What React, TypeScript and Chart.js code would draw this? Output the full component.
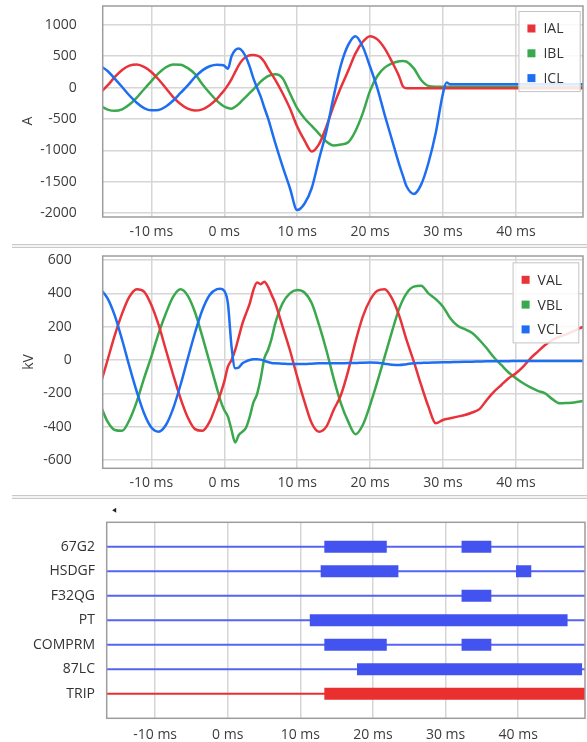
import React, { useEffect, useRef } from "react";
import { Chart, registerables } from "chart.js";

Chart.register(...registerables);

const FONT = '"Open Sans", "Noto Sans", "DejaVu Sans", sans-serif';
const TEXT = "#3c3c3c";
const GRID = "#d6d6d6";
const FRAME = "#9d9d9d";

// Shared time window (ms) for all three panels
const X_MIN = -16.67;
const X_MAX = 49.2;
const TIME_TICKS = [-10, 0, 10, 20, 30, 40];
const CURRENT_TICKS = [-2000, -1500, -1000, -500, 0, 500, 1000];
const VOLTAGE_TICKS = [-600, -400, -200, 0, 200, 400, 600];

// ---- Line currents (A) ----
const T_CURRENT = [
  -17, -16, -15, -14, -13, -12, -11, -10, -9, -8, -7, -6, -5, -4, -3, -2, -1,
  -0.5, 0, 0.5, 1, 1.5, 2, 2.5, 3, 3.5, 4, 4.5, 5, 5.5, 6,
  7, 8, 9, 10, 11, 12, 13, 14, 15, 16, 17, 18, 19, 20, 21, 22, 23, 24,
  24.5, 25, 26, 27, 28, 29, 30, 30.5, 31, 35, 40, 45, 50,
];
const IAL = [
  -80, 35, 170, 280, 350, 368, 330, 250, 130, -10, -150, -260, -335, -365, -345, -280, -180,
  -110, -40, 40, 137, 250, 360, 440, 492, 515, 519, 510, 481, 410, 307,
  122, -90, -330, -620, -840, -1016, -900, -620, -290, 5, 270, 546, 730, 820, 768, 625, 413, 175,
  20, -10, -10, -10, -10, -10, -10, -10, -10, -10, -10, -10, -10,
];
const IBL = [
  -290, -350, -370, -345, -270, -160, -25, 105, 230, 325, 370, 365, 310, 215, 55, -85, -210,
  -260, -300, -325, -335, -305, -259, -200, -143, -85, -26, 35, 95, 145, 185,
  212, 150, -90, -328, -487, -608, -735, -857, -920, -905, -870, -690, -407, -48, 186, 318, 387, 420,
  425, 413, 307, 122, 27, 16, 16, 16, 16, 16, 16, 16, 16,
];
const ICL = [
  345, 265, 140, 10, -125, -240, -325, -362, -355, -300, -205, -85, 35, 170, 275, 340, 365,
  362, 350, 300, 500, 598, 624, 580, 480, 330, 148, 0, -143, -320, -487,
  -883, -1254, -1598, -1950, -1850, -1598, -1138, -698, -143, 360, 680, 820, 651, 333, -10, -433, -830, -1227,
  -1400, -1571, -1692, -1544, -1200, -724, -89, 80, 54, 54, 54, 54, 54,
];

// ---- Line voltages (kV) ----
const T_VOLTAGE = [
  -17, -16, -15, -14, -13, -12, -11, -10, -9, -8, -7, -6, -5, -4, -3, -2, -1,
  -0.5, 0, 0.5, 1, 1.5, 2, 2.5, 3, 3.5, 4, 4.5, 5, 5.5, 6, 6.5, 7,
  8, 9, 10, 11, 12, 13, 14, 15, 16, 17, 18, 19, 20, 21, 22, 23, 24, 25, 26, 27, 28, 29,
  30, 31, 32, 33, 34, 35, 36, 37, 38, 39, 40, 41, 42, 43, 44, 45, 46, 47, 48, 49, 50,
];
const VAL = [
  -150, 0, 150, 280, 380, 425, 410, 330, 210, 60, -90, -230, -345, -415, -425, -370, -260,
  -200, -130, -40, 0, 60, 140, 220, 280, 340, 420, 465, 455, 470, 440, 390, 340,
  200, 60, -100, -250, -380, -430, -400, -300, -210, -65, 110, 260, 360, 415, 425, 370, 265, 120, -10, -150, -280, -380,
  -360, -350, -340, -330, -315, -295, -240, -190, -150, -110, -80, -40, 10, 50, 90, 120, 140, 155, 175, 195, 210,
];
const VBL = [
  -270, -370, -420, -425, -360, -250, -110, 20, 160, 280, 380, 424, 385, 285, 140, -15, -170,
  -245, -300, -340, -420, -495, -450, -430, -405, -340, -255, -205, -110, 10, 60, 130, 220,
  340, 400, 420, 405, 340, 210, 60, -110, -260, -370, -445, -390, -270, -130, 20, 170, 310, 400, 440, 445, 400, 365,
  320, 250, 205, 185, 162, 120, 70, 15, -30, -75, -110, -140, -165, -185, -200, -235, -260, -258, -255, -248, -240,
];
const VCL = [
  425, 370, 265, 120, -40, -190, -320, -405, -430, -390, -290, -150, 10, 165, 300, 390, 425,
  428, 415, 340, 80, -50, -45, -20, -8, 0, 4, 5, 2, -5, -12, -18, -20,
  -22, -24, -24, -24, -22, -20, -20, -20, -20, -18, -18, -16, -15, -16, -22, -28, -30, -25, -20, -18, -16, -15,
  -14, -13, -12, -11, -10, -9, -8, -8, -7, -7, -6, -6, -6, -6, -6, -6, -6, -6, -6, -6, -6,
];

// ---- Digital elements: asserted intervals (ms) ----
const STATUS_LABELS = ["67G2", "HSDGF", "F32QG", "PT", "COMPRM", "87LC", "TRIP"];
const ON_67G2 = [[13.3, 21.9], [32.2, 36.3]];
const ON_HSDGF = [[12.8, 23.5], [39.7, 41.8]];
const ON_F32QG = [[32.2, 36.3]];
const ON_PT = [[11.3, 46.8]];
const ON_COMPRM = [[13.3, 21.9], [32.2, 36.3]];
const ON_87LC = [[17.8, 48.8]];
const ON_TRIP = [[13.3, 50]];

const RED = "#e8333a";
const GREEN = "#3aa84c";
const BLUE = "#1e6ef2";
const BAR_BLUE = "#4353f0";
const LINE_BLUE = "#5565f2";
const BAR_RED = "#e9302f";

const toPoints = (ts: number[], vs: number[]) => ts.map((t, i) => ({ x: t, y: vs[i] }));

const framePlugin = {
  id: "frame",
  afterDatasetsDraw(chart: any) {
    const { ctx, chartArea: a } = chart;
    ctx.save();
    ctx.strokeStyle = FRAME;
    ctx.lineWidth = 1.5;
    ctx.strokeRect(a.left, a.top, a.right - a.left, a.bottom - a.top);
    ctx.restore();
  },
};

const boxLegendPlugin = {
  id: "boxLegend",
  afterDraw(chart: any, _args: any, opts: any) {
    if (!opts || opts.inset === undefined) return;
    const { ctx, chartArea: a } = chart;
    const items = chart.data.datasets.map((d: any) => ({ label: d.label, color: d.borderColor }));
    ctx.save();
    ctx.font = `14px ${FONT}`;
    const tw = Math.max(...items.map((it: any) => ctx.measureText(it.label).width));
    const rowH = 24.8;
    const w = 9 + 8 + 8 + tw + 17;
    const h = 17.5 + rowH * (items.length - 1) + 14;
    const x = a.right - opts.inset - w;
    const y = a.top + opts.top;
    ctx.fillStyle = "rgba(255,255,255,0.86)";
    ctx.fillRect(x, y, w, h);
    ctx.strokeStyle = "#c4c4c4";
    ctx.lineWidth = 1;
    ctx.strokeRect(x + 0.5, y + 0.5, w - 1, h - 1);
    ctx.textBaseline = "middle";
    ctx.textAlign = "left";
    items.forEach((it: any, i: number) => {
      const cy = y + 17.5 + i * rowH;
      ctx.fillStyle = it.color;
      ctx.fillRect(x + 9, cy - 4, 8, 8);
      ctx.fillStyle = "#333";
      ctx.fillText(it.label, x + 25, cy + 1);
    });
    ctx.restore();
  },
};

const sideTitlePlugin = {
  id: "sideTitle",
  afterDraw(chart: any, _args: any, opts: any) {
    if (!opts || !opts.text) return;
    const { ctx } = chart;
    ctx.save();
    ctx.translate(opts.x, opts.y);
    ctx.rotate(-Math.PI / 2);
    ctx.font = `14px ${FONT}`;
    ctx.fillStyle = TEXT;
    ctx.textAlign = "center";
    ctx.textBaseline = "middle";
    ctx.fillText(opts.text, 0, 0);
    ctx.restore();
  },
};

const scrollMarkPlugin = {
  id: "scrollMark",
  afterDraw(chart: any, _args: any, opts: any) {
    if (!opts || !opts.show) return;
    const { ctx, chartArea: a } = chart;
    const cx = a.left + 8;
    const cy = a.top - 12;
    ctx.save();
    ctx.fillStyle = "#222";
    ctx.beginPath();
    ctx.moveTo(cx - 2.5, cy);
    ctx.lineTo(cx + 1.5, cy - 2.5);
    ctx.lineTo(cx + 1.5, cy + 2.5);
    ctx.closePath();
    ctx.fill();
    ctx.restore();
  },
};

const resetPadding = (s: any) => {
  s.paddingTop = 0;
  s.paddingBottom = 0;
  s.paddingLeft = 0;
  s.paddingRight = 0;
};

const fixedTicks = (values: number[]) => (s: any) => {
  s.ticks = values.map((value) => ({ value }));
};

const timeAxis = (height: number, pad: number) => ({
  type: "linear",
  min: X_MIN,
  max: X_MAX,
  afterBuildTicks: fixedTicks(TIME_TICKS),
  afterFit: (s: any) => {
    s.height = height;
    resetPadding(s);
  },
  grid: { color: GRID, lineWidth: 1.5, drawTicks: false },
  border: { display: false },
  ticks: {
    padding: pad,
    color: TEXT,
    autoSkip: false,
    maxRotation: 0,
    font: { family: FONT, size: 14 },
    callback: (v: any) => `${v} ms`,
  },
});

const valueAxis = (min: number, max: number, ticks: number[], width: number, pad: number) => ({
  type: "linear",
  min,
  max,
  afterBuildTicks: fixedTicks(ticks),
  afterFit: (s: any) => {
    s.width = width;
    resetPadding(s);
  },
  grid: { color: GRID, lineWidth: 1.5, drawTicks: false },
  border: { display: false },
  ticks: {
    padding: pad,
    color: TEXT,
    autoSkip: false,
    font: { family: FONT, size: 14 },
    callback: (v: any) => String(v),
  },
});

const wave = (label: string, color: string, ts: number[], vs: number[], order: number) => ({
  label,
  data: toPoints(ts, vs),
  borderColor: color,
  backgroundColor: color,
  borderWidth: 2.5,
  pointRadius: 0,
  cubicInterpolationMode: "monotone",
  fill: false,
  clip: 0,
  order,
});

function currentConfig(): any {
  return {
    type: "line",
    data: {
      datasets: [
        wave("IAL", RED, T_CURRENT, IAL, 1),
        wave("IBL", GREEN, T_CURRENT, IBL, 2),
        wave("ICL", BLUE, T_CURRENT, ICL, 0),
      ],
    },
    options: {
      animation: false,
      responsive: false,
      devicePixelRatio: 1,
      layout: { padding: { top: 6, right: 4, left: 0, bottom: 0 } },
      scales: {
        x: timeAxis(27, 6.6),
        y: valueAxis(-2060, 1300, CURRENT_TICKS, 102.7, 26),
      },
      plugins: {
        legend: { display: false },
        tooltip: { enabled: false },
        boxLegend: { inset: 2.3, top: 5 },
        sideTitle: { text: "A", x: 28, y: 121 },
      },
    },
    plugins: [framePlugin, boxLegendPlugin, sideTitlePlugin],
  };
}

function voltageConfig(): any {
  return {
    type: "line",
    data: {
      datasets: [
        wave("VAL", RED, T_VOLTAGE, VAL, 1),
        wave("VBL", GREEN, T_VOLTAGE, VBL, 2),
        wave("VCL", BLUE, T_VOLTAGE, VCL, 0),
      ],
    },
    options: {
      animation: false,
      responsive: false,
      devicePixelRatio: 1,
      layout: { padding: { top: 8, right: 4, left: 0, bottom: 0 } },
      scales: {
        x: timeAxis(26.7, 6.3),
        y: valueAxis(-650, 624, VOLTAGE_TICKS, 102.7, 31),
      },
      plugins: {
        legend: { display: false },
        tooltip: { enabled: false },
        boxLegend: { inset: 3.7, top: 6.3 },
        sideTitle: { text: "kV", x: 29, y: 114 },
      },
    },
    plugins: [framePlugin, boxLegendPlugin, sideTitlePlugin],
  };
}

function statusConfig(): any {
  const intervals = [ON_67G2, ON_HSDGF, ON_F32QG, ON_PT, ON_COMPRM, ON_87LC, ON_TRIP];
  const datasets: any[] = [];
  STATUS_LABELS.forEach((name, i) => {
    const row = i + 1;
    const isTrip = name === "TRIP";
    datasets.push({
      label: name,
      data: [{ x: X_MIN, y: row }, { x: X_MAX, y: row }],
      borderColor: isTrip ? BAR_RED : LINE_BLUE,
      borderWidth: 2,
      pointRadius: 0,
      clip: 0,
      order: 2,
    });
    intervals[i].forEach(([a, b]) => {
      datasets.push({
        label: name,
        data: [{ x: a, y: row }, { x: b, y: row }],
        borderColor: isTrip ? BAR_RED : BAR_BLUE,
        borderWidth: 12,
        borderCapStyle: "butt",
        pointRadius: 0,
        clip: 0,
        order: 1,
      });
    });
  });
  return {
    type: "line",
    data: { datasets },
    options: {
      animation: false,
      responsive: false,
      devicePixelRatio: 1,
      layout: { padding: { top: 23.3, right: 2, left: 0, bottom: 0 } },
      scales: {
        x: timeAxis(23.7, 8.3),
        y: {
          type: "linear",
          min: 0,
          max: STATUS_LABELS.length + 1,
          reverse: true,
          afterBuildTicks: fixedTicks(STATUS_LABELS.map((_, i) => i + 1)),
          afterFit: (s: any) => {
            s.width = 106.7;
            resetPadding(s);
          },
          grid: { display: false, drawTicks: false },
          border: { display: false },
          ticks: {
            padding: 11.7,
            color: "#333",
            autoSkip: false,
            font: { family: FONT, size: 14 },
            callback: (v: any) => STATUS_LABELS[v - 1] ?? "",
          },
        },
      },
      plugins: {
        legend: { display: false },
        tooltip: { enabled: false },
        scrollMark: { show: true },
      },
    },
    plugins: [framePlugin, scrollMarkPlugin],
  };
}

const separator = (top: number): React.CSSProperties => ({
  position: "absolute",
  left: 12,
  right: 0,
  top,
  height: 2,
  borderTop: "1px solid #c9c9c9",
  borderBottom: "1px solid #c9c9c9",
  background: "#f3f3f3",
});

export default function App() {
  const currentRef = useRef<HTMLCanvasElement>(null);
  const voltageRef = useRef<HTMLCanvasElement>(null);
  const statusRef = useRef<HTMLCanvasElement>(null);

  useEffect(() => {
    Chart.defaults.font.family = FONT;
    const charts: Chart[] = [];
    if (currentRef.current) charts.push(new Chart(currentRef.current, currentConfig()));
    if (voltageRef.current) charts.push(new Chart(voltageRef.current, voltageConfig()));
    if (statusRef.current) charts.push(new Chart(statusRef.current, statusConfig()));
    return () => charts.forEach((c) => c.destroy());
  }, []);

  return (
    <div
      style={{
        position: "absolute",
        left: 0,
        top: 0,
        width: 587,
        height: 742,
        background: "#fff",
        overflow: "hidden",
      }}
    >
      <canvas ref={currentRef} width={587} height={244} style={{ position: "absolute", left: 0, top: 0 }} />
      <div style={separator(244)} />
      <canvas ref={voltageRef} width={587} height={247} style={{ position: "absolute", left: 0, top: 248 }} />
      <div style={separator(495)} />
      <canvas ref={statusRef} width={587} height={243} style={{ position: "absolute", left: 0, top: 499 }} />
    </div>
  );
}
